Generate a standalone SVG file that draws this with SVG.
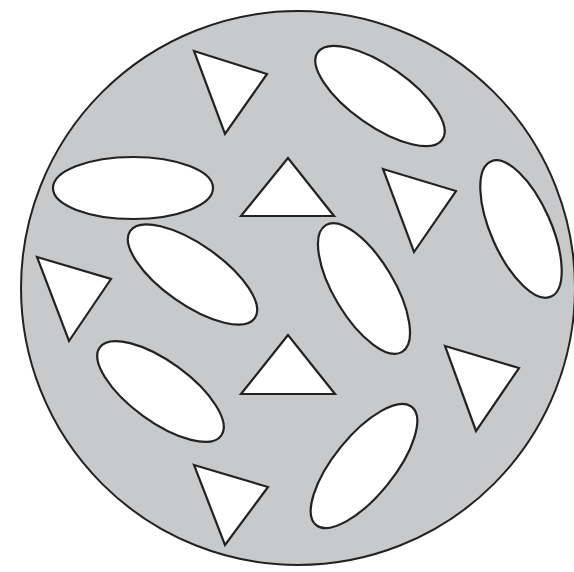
<svg xmlns="http://www.w3.org/2000/svg" width="574" height="572" viewBox="0 0 574 572">
<style>
.disc{fill:#c8c9cb;stroke:#222;stroke-width:2}
.h{fill:#fff;stroke:#222;stroke-width:2.2;stroke-linejoin:miter}
</style>
<rect width="574" height="572" fill="#fff"/>
<circle class="disc" cx="298" cy="288" r="277"/>
<g id="ellipses">
<ellipse class="h" cx="380" cy="96" rx="76" ry="30" transform="rotate(35 380 96)"/>
<ellipse class="h" cx="133" cy="188" rx="80" ry="31"/>
<ellipse class="h" cx="521" cy="229" rx="74" ry="30" transform="rotate(66 521 229)"/>
<ellipse class="h" cx="192.5" cy="274.5" rx="76" ry="30" transform="rotate(35 192.5 274.5)"/>
<ellipse class="h" cx="364" cy="288.5" rx="74" ry="30" transform="rotate(59 364 288.5)"/>
<ellipse class="h" cx="160.5" cy="391.5" rx="75" ry="30" transform="rotate(36 160.5 391.5)"/>
<ellipse class="h" cx="364" cy="466" rx="76" ry="30" transform="rotate(-51 364 466)"/>
</g>
<g id="triangles">
<polygon class="h" points="194,51 267,74 225,134"/>
<polygon class="h" points="288,158 241,216 334,216"/>
<polygon class="h" points="383,169 456,191 414,252"/>
<polygon class="h" points="37,257 111,279 69,341"/>
<polygon class="h" points="288,335 241,394 335,394"/>
<polygon class="h" points="445,346 519,368 476,431"/>
<polygon class="h" points="194,465 268,487 225,545"/>
</g>
</svg>
